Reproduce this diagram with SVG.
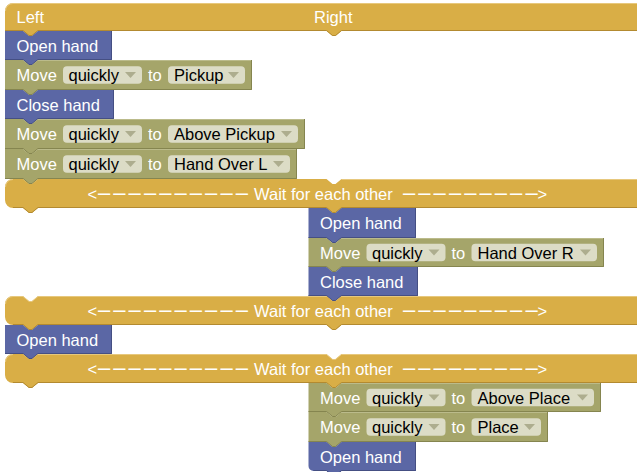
<svg xmlns="http://www.w3.org/2000/svg" width="637" height="472" viewBox="0 0 637 472">
<style>
text{font-family:"Liberation Sans",Arial,sans-serif;font-size:16.5px;fill:#fff}
.gold{fill:#D9AE46}.blue{fill:#5B67A5}.olive{fill:#A5A56A}
.sh{fill:none;stroke-width:1}
.gold-s{stroke:#B38A30}.blue-s{stroke:#454F83}.olive-s{stroke:#85854F}
.hl{fill:none;stroke-width:1;opacity:.7}
.gold-h{stroke:#EDD394}.blue-h{stroke:#8A93C2}.olive-h{stroke:#C4C49A}
.dd{fill:#DCDCC6}
.dt{fill:#000}
.ar{fill:#ADAD8E}
.dash{font-size:22px}
</style>
<rect width="637" height="472" fill="#fff"/>

<g id="header">
<path class="gold" d="M5,11 a8,8 0 0 1 8,-8 H640 V31 H341.5 l-6,5 h-3 l-6,-5 H38 l-6,5 h-3 l-6,-5 H5 Z"/>
<path class="sh gold-s" d="M5,30.5 H23 l6,5 h3 l6,-5 H326.5 l6,5 h3 l6,-5 H640"/>
<path class="hl gold-h" d="M5.5,11 a7.5,7.5 0 0 1 7.5,-7.5 H640"/>
<text x="16.5" y="23">Left</text>
<text x="314" y="23">Right</text>
</g>

<g id="openL1">
<path class="blue" d="M5,31 H23 l6,5 h3 l6,-5 H112 V60 H38 l-6,5 h-3 l-6,-5 H5 Z"/>
<path class="sh blue-s" d="M111.5,31 V59.5 H38 l-6,5 h-3 l-6,-5 H5"/>
<text x="16.5" y="51.5">Open hand</text>
</g>

<g id="moveL1">
<path class="olive" d="M5,60 H23 l6,5 h3 l6,-5 H252 V90 H38 l-6,5 h-3 l-6,-5 H5 Z"/>
<path class="sh olive-s" d="M251.5,60 V89.5 H38 l-6,5 h-3 l-6,-5 H5"/>
<path class="hl olive-h" d="M38,60.5 H251"/>
<text x="16.5" y="81">Move</text>
<rect class="dd" x="63" y="66.25" width="79" height="17.5" rx="4"/>
<text class="dt" x="68.5" y="81">quickly</text>
<path class="ar" d="M125,72 H136 L130.5,78 Z"/>
<text x="148" y="81">to</text>
<rect class="dd" x="168" y="66.25" width="77" height="17.5" rx="4"/>
<text class="dt" x="174" y="81">Pickup</text>
<path class="ar" d="M228,72 H239 L233.5,78 Z"/>
</g>

<g id="closeL1">
<path class="blue" d="M5,90 H23 l6,5 h3 l6,-5 H114 V119 H38 l-6,5 h-3 l-6,-5 H5 Z"/>
<path class="sh blue-s" d="M113.5,90 V118.5 H38 l-6,5 h-3 l-6,-5 H5"/>
<text x="16.5" y="110.5">Close hand</text>
</g>

<g id="moveL2">
<path class="olive" d="M5,119 H23 l6,5 h3 l6,-5 H305 V149 H38 l-6,5 h-3 l-6,-5 H5 Z"/>
<path class="sh olive-s" d="M304.5,119 V148.5 H38 l-6,5 h-3 l-6,-5 H5"/>
<path class="hl olive-h" d="M38,119.5 H304"/>
<text x="16.5" y="140">Move</text>
<rect class="dd" x="63" y="125.25" width="79" height="17.5" rx="4"/>
<text class="dt" x="68.5" y="140">quickly</text>
<path class="ar" d="M125,131 H136 L130.5,137 Z"/>
<text x="148" y="140">to</text>
<rect class="dd" x="168" y="125.25" width="130" height="17.5" rx="4"/>
<text class="dt" x="174" y="140">Above Pickup</text>
<path class="ar" d="M281,131 H292 L286.5,137 Z"/>
</g>

<g id="moveL3">
<path class="olive" d="M5,149 H23 l6,5 h3 l6,-5 H297 V179 H38 l-6,5 h-3 l-6,-5 H5 Z"/>
<path class="sh olive-s" d="M296.5,149 V178.5 H38 l-6,5 h-3 l-6,-5 H5"/>
<path class="hl olive-h" d="M38,149.5 H296"/>
<text x="16.5" y="170">Move</text>
<rect class="dd" x="63" y="155.25" width="79" height="17.5" rx="4"/>
<text class="dt" x="68.5" y="170">quickly</text>
<path class="ar" d="M125,161 H136 L130.5,167 Z"/>
<text x="148" y="170">to</text>
<rect class="dd" x="168" y="155.25" width="122" height="17.5" rx="4"/>
<text class="dt" x="174" y="170">Hand Over L</text>
<path class="ar" d="M273,161 H284 L278.5,167 Z"/>
</g>

<g id="wait1">
<path class="gold" d="M5,187 a8,8 0 0 1 8,-8 H23 l6,5 h3 l6,-5 H326.5 l6,5 h3 l6,-5 H640 V208 H341.5 l-6,5 h-3 l-6,-5 H38 l-6,5 h-3 l-6,-5 H13 a8,8 0 0 1 -8,-8 Z"/>
<path class="sh gold-s" d="M13,207.5 H23 l6,5 h3 l6,-5 H326.5 l6,5 h3 l6,-5 H640"/>
<path class="hl gold-h" d="M5.5,187 a7.5,7.5 0 0 1 7.5,-7.5 M341.5,179.5 H640"/>
<text y="199.5"><tspan x="87.5">&lt;</tspan><tspan class="dash" x="98 113.3 128.6 143.9 159.2 174.5 189.8 205.1 220.4 235.7">––––––––––</tspan><tspan x="254">Wait for each other</tspan><tspan class="dash" x="403 418.3 433.6 448.9 464.2 479.5 494.8 510.1 525.4">–––––––––</tspan><tspan x="537.5">&gt;</tspan></text>
</g>

<g id="openR1">
<path class="blue" d="M308.5,208 H326.5 l6,5 h3 l6,-5 H416 V238 H341.5 l-6,5 h-3 l-6,-5 H308.5 Z"/>
<path class="sh blue-s" d="M415.5,208 V237.5 H341.5 l-6,5 h-3 l-6,-5 H308.5"/>
<text x="320" y="229">Open hand</text>
</g>

<g id="moveR1">
<path class="olive" d="M308.5,238 H326.5 l6,5 h3 l6,-5 H604 V267 H341.5 l-6,5 h-3 l-6,-5 H308.5 Z"/>
<path class="sh olive-s" d="M603.5,238 V266.5 H341.5 l-6,5 h-3 l-6,-5 H308.5"/>
<path class="hl olive-h" d="M341.5,238.5 H603"/>
<text x="320" y="258.5">Move</text>
<rect class="dd" x="366.5" y="243.75" width="79" height="17.5" rx="4"/>
<text class="dt" x="372" y="258.5">quickly</text>
<path class="ar" d="M428.5,249.5 H439.5 L434,255.5 Z"/>
<text x="451.5" y="258.5">to</text>
<rect class="dd" x="471.5" y="243.75" width="125.5" height="17.5" rx="4"/>
<text class="dt" x="477.5" y="258.5">Hand Over R</text>
<path class="ar" d="M580,249.5 H591 L585.5,255.5 Z"/>
</g>

<g id="closeR1">
<path class="blue" d="M308.5,267 H326.5 l6,5 h3 l6,-5 H418 V296 H341.5 l-6,5 h-3 l-6,-5 H308.5 Z"/>
<path class="sh blue-s" d="M417.5,267 V295.5 H341.5 l-6,5 h-3 l-6,-5 H308.5"/>
<text x="320" y="287.5">Close hand</text>
</g>

<g id="wait2">
<path class="gold" d="M5,304 a8,8 0 0 1 8,-8 H23 l6,5 h3 l6,-5 H326.5 l6,5 h3 l6,-5 H640 V325 H341.5 l-6,5 h-3 l-6,-5 H38 l-6,5 h-3 l-6,-5 H13 a8,8 0 0 1 -8,-8 Z"/>
<path class="sh gold-s" d="M13,324.5 H23 l6,5 h3 l6,-5 H326.5 l6,5 h3 l6,-5 H640"/>
<path class="hl gold-h" d="M5.5,304 a7.5,7.5 0 0 1 7.5,-7.5 H23 l6,5 h3 l6,-5 H326.5 M341.5,296.5 H640"/>
<text y="316.5"><tspan x="87.5">&lt;</tspan><tspan class="dash" x="98 113.3 128.6 143.9 159.2 174.5 189.8 205.1 220.4 235.7">––––––––––</tspan><tspan x="254">Wait for each other</tspan><tspan class="dash" x="403 418.3 433.6 448.9 464.2 479.5 494.8 510.1 525.4">–––––––––</tspan><tspan x="537.5">&gt;</tspan></text>
</g>

<g id="openL2">
<path class="blue" d="M5,325 H23 l6,5 h3 l6,-5 H112 V354 H38 l-6,5 h-3 l-6,-5 H5 Z"/>
<path class="sh blue-s" d="M111.5,325 V353.5 H38 l-6,5 h-3 l-6,-5 H5"/>
<text x="16.5" y="345.5">Open hand</text>
</g>

<g id="wait3">
<path class="gold" d="M5,362 a8,8 0 0 1 8,-8 H23 l6,5 h3 l6,-5 H326.5 l6,5 h3 l6,-5 H640 V383 H341.5 l-6,5 h-3 l-6,-5 H38 l-6,5 h-3 l-6,-5 H13 a8,8 0 0 1 -8,-8 Z"/>
<path class="sh gold-s" d="M13,382.5 H23 l6,5 h3 l6,-5 H326.5 l6,5 h3 l6,-5 H640"/>
<path class="hl gold-h" d="M5.5,362 a7.5,7.5 0 0 1 7.5,-7.5 M38,354.5 H326.5 l6,5 h3 l6,-5 H640"/>
<text y="374.5"><tspan x="87.5">&lt;</tspan><tspan class="dash" x="98 113.3 128.6 143.9 159.2 174.5 189.8 205.1 220.4 235.7">––––––––––</tspan><tspan x="254">Wait for each other</tspan><tspan class="dash" x="403 418.3 433.6 448.9 464.2 479.5 494.8 510.1 525.4">–––––––––</tspan><tspan x="537.5">&gt;</tspan></text>
</g>

<g id="moveR2">
<path class="olive" d="M308.5,383 H326.5 l6,5 h3 l6,-5 H601 V412 H341.5 l-6,5 h-3 l-6,-5 H308.5 Z"/>
<path class="sh olive-s" d="M600.5,383 V411.5 H341.5 l-6,5 h-3 l-6,-5 H308.5"/>
<path class="hl olive-h" d="M341.5,383.5 H600"/>
<text x="320" y="403.5">Move</text>
<rect class="dd" x="366.5" y="388.75" width="79" height="17.5" rx="4"/>
<text class="dt" x="372" y="403.5">quickly</text>
<path class="ar" d="M428.5,394.5 H439.5 L434,400.5 Z"/>
<text x="451.5" y="403.5">to</text>
<rect class="dd" x="471.5" y="388.75" width="122.5" height="17.5" rx="4"/>
<text class="dt" x="477.5" y="403.5">Above Place</text>
<path class="ar" d="M577,394.5 H588 L582.5,400.5 Z"/>
</g>

<g id="moveR3">
<path class="olive" d="M308.5,412 H326.5 l6,5 h3 l6,-5 H548 V442 H341.5 l-6,5 h-3 l-6,-5 H308.5 Z"/>
<path class="sh olive-s" d="M547.5,412 V441.5 H341.5 l-6,5 h-3 l-6,-5 H308.5"/>
<path class="hl olive-h" d="M341.5,412.5 H547"/>
<text x="320" y="433">Move</text>
<rect class="dd" x="366.5" y="418.25" width="79" height="17.5" rx="4"/>
<text class="dt" x="372" y="433">quickly</text>
<path class="ar" d="M428.5,424 H439.5 L434,430 Z"/>
<text x="451.5" y="433">to</text>
<rect class="dd" x="471.5" y="418.25" width="69.5" height="17.5" rx="4"/>
<text class="dt" x="477.5" y="433">Place</text>
<path class="ar" d="M524,424 H535 L529.5,430 Z"/>
</g>

<g id="openR2">
<path class="blue" d="M308.5,442 H326.5 l6,5 h3 l6,-5 H416 V471 H341.5 l-6,5 h-3 l-6,-5 H313.5 a5,5 0 0 1 -5,-5 Z"/>
<path class="sh blue-s" d="M415.5,442 V470.5 H341.5 l-6,5 h-3 l-6,-5 H313.5"/>
<text x="320" y="462.5">Open hand</text>
</g>

<g id="connectors"></g>
</svg>
